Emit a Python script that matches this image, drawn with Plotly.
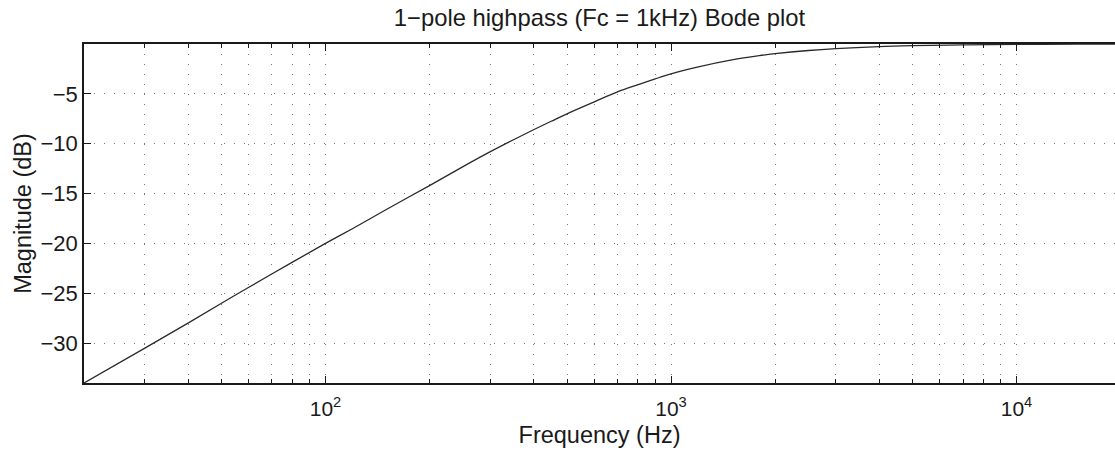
import numpy as np
import plotly.graph_objects as go

# Data
freq_hz = [20, 30, 40, 50, 60, 80, 100, 120, 150, 200, 250, 300, 350, 400, 450, 500,
           600, 700, 800, 900, 1000, 1200, 1500, 1800, 2000, 2500, 3000, 4000, 5000,
           7000, 10000, 15000, 20000]
mag_db = [-34.0, -30.5, -28.0, -26.0, -24.4, -21.9, -20.0, -18.5, -16.6, -14.2, -12.3,
          -10.8, -9.6, -8.6, -7.75, -7.0, -5.8, -4.8, -4.1, -3.5, -3.0, -2.3, -1.6,
          -1.17, -0.97, -0.65, -0.46, -0.26, -0.17, -0.09, -0.04, -0.02, -0.01]
y_ticks = [-30, -25, -20, -15, -10, -5]
x_major = [100, 1000, 10000]
x_major_text = ["10<sup>2</sup>", "10<sup>3</sup>", "10<sup>4</sup>"]
x_minor = [m * d for d in (10, 100, 1000, 10000) for m in range(2, 10)]

FONT = "Liberation Sans, Arial, sans-serif"
INK = "#1a1a1a"
GRID = "#7a7a7a"
DOTS = "1px,9px"

fig = go.Figure()
fig.add_trace(go.Scatter(x=freq_hz, y=mag_db, mode="lines",
                         line=dict(color="#2a2a2a", width=1.3, shape="spline", smoothing=1.0),
                         showlegend=False, hoverinfo="skip"))

fig.update_layout(
    width=1115, height=457,
    margin=dict(l=84, r=0, t=44, b=74),
    paper_bgcolor="white", plot_bgcolor="white",
    font=dict(family=FONT, size=22, color=INK),
    title=dict(text="1\u2212pole highpass (Fc = 1kHz) Bode plot", x=0.5, xref="paper",
               xanchor="center", y=1 - 18 / 457, yref="container", yanchor="middle",
               font=dict(family=FONT, size=23.8, color=INK)),
)
fig.update_xaxes(
    type="log", range=[np.log10(20), 4.285],
    tickvals=x_major, ticktext=x_major_text,
    tickfont=dict(family=FONT, size=21, color=INK),
    ticklabelstandoff=6,
    ticks="inside", ticklen=7, tickcolor=INK,
    showline=True, linecolor=INK, linewidth=1.5, mirror="ticks",
    showgrid=True, gridcolor=GRID, griddash=DOTS, gridwidth=1,
    minor=dict(tickvals=x_minor, ticks="inside", ticklen=4, tickcolor=INK,
               showgrid=True, gridcolor=GRID, griddash=DOTS, gridwidth=1),
    title=dict(text="Frequency (Hz)", standoff=8, font=dict(family=FONT, size=23.5, color=INK)),
    zeroline=False,
)
fig.update_yaxes(
    range=[-34, 0], tickvals=y_ticks,
    tickfont=dict(family=FONT, size=22, color=INK),
    ticks="inside", ticklen=7, tickcolor=INK,
    showline=True, linecolor=INK, linewidth=1.5, mirror=False,
    showgrid=True, gridcolor=GRID, griddash=DOTS, gridwidth=1,
    title=dict(text="Magnitude (dB)", standoff=2, font=dict(family=FONT, size=23.5, color=INK)),
    zeroline=False,
)
fig.write_html("out.html")
